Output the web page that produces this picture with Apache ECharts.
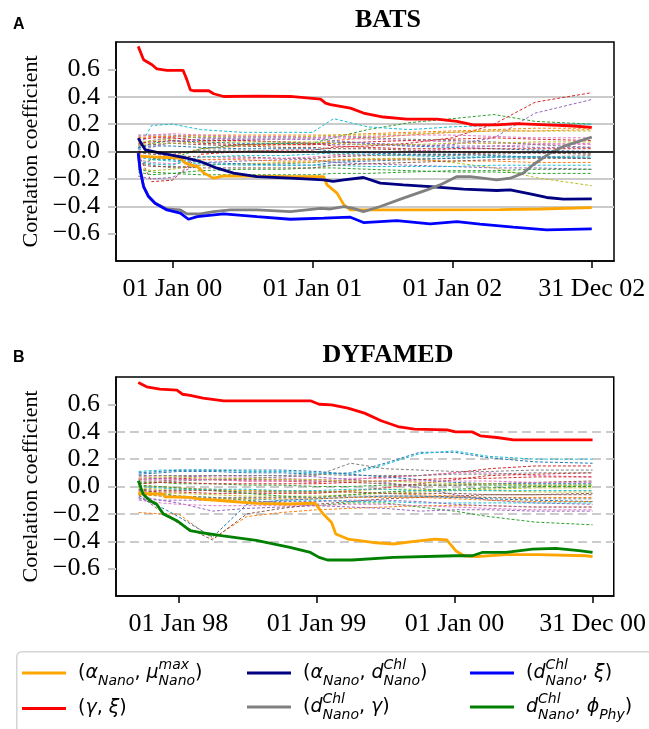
<!DOCTYPE html>
<html><head><meta charset="utf-8">
<script src="https://cdn.jsdelivr.net/npm/echarts@6/dist/echarts.min.js"></script>
<style>html,body{margin:0;padding:0;background:#fff}#c{width:649px;height:729px}</style>
</head><body><div id="c"></div>
<script>
// ================= DATA =================
// axis ticks
const batsTickDates = ['2000-01-01','2001-01-01','2002-01-01','2002-12-31'];
const batsTickLabels = ['01 Jan 00','01 Jan 01','01 Jan 02','31 Dec 02'];
const dyfTickDates = ['1998-01-01','1999-01-01','2000-01-01','2000-12-31'];
const dyfTickLabels = ['01 Jan 98','01 Jan 99','01 Jan 00','31 Dec 00'];
const batsRange = ['1999-08-07','2003-02-27'];
const dyfRange = ['1997-07-20','2001-02-25'];
const yTicks = [-0.6,-0.4,-0.2,0,0.2,0.4,0.6];

// ---- BATS main series ----
const batsRedDates = ['1999-10-04','1999-10-18','1999-11-09','1999-11-22','1999-12-18','2000-01-29','2000-02-08','2000-02-17','2000-02-25','2000-04-05','2000-04-18','2000-05-14','2000-08-09','2000-11-04','2001-01-22','2001-02-04','2001-02-17','2001-03-15','2001-04-10','2001-05-14','2001-07-05','2001-09-04','2001-11-22','2002-01-13','2002-02-25','2002-04-27','2002-06-18','2002-09-04','2002-11-04','2002-12-31'];
const batsRedVals = [0.768,0.67,0.634,0.603,0.593,0.593,0.525,0.45,0.444,0.444,0.422,0.402,0.405,0.402,0.383,0.354,0.342,0.33,0.317,0.281,0.252,0.237,0.237,0.22,0.195,0.195,0.203,0.195,0.188,0.176];

const batsNavyDates = ['1999-10-04','1999-10-14','1999-10-23','1999-11-22','1999-12-27','2000-02-08','2000-03-14','2000-04-27','2000-06-09','2000-08-09','2000-11-04','2001-01-30','2001-02-24','2001-03-24','2001-05-14','2001-06-27','2001-08-26','2001-11-04','2002-01-30','2002-04-27','2002-06-01','2002-07-23','2002-09-04','2002-10-18','2002-12-31'];
const batsNavyVals = [0.098,0.049,0.012,-0.007,-0.024,-0.049,-0.073,-0.122,-0.158,-0.183,-0.195,-0.207,-0.219,-0.207,-0.19,-0.231,-0.244,-0.256,-0.275,-0.285,-0.28,-0.31,-0.336,-0.348,-0.346];

const batsOrangeDates = ['1999-10-09','2000-01-22','2000-02-04','2000-03-06','2000-03-24','2000-04-18','2000-05-14','2000-11-04','2001-01-30','2001-02-08','2001-03-06','2001-03-24','2001-04-10','2001-11-04','2002-05-06','2002-08-18','2002-12-31'];
const batsOrangeVals = [-0.036,-0.049,-0.085,-0.11,-0.158,-0.195,-0.178,-0.183,-0.183,-0.244,-0.304,-0.39,-0.427,-0.427,-0.425,-0.42,-0.41];

const batsBlueDates = ['1999-10-04','1999-10-09','1999-10-18','1999-10-31','1999-11-17','1999-12-18','2000-01-22','2000-02-12','2000-03-06','2000-05-14','2000-08-09','2000-11-04','2001-01-30','2001-04-10','2001-05-14','2001-08-09','2001-11-04','2002-01-13','2002-03-14','2002-06-09','2002-09-04','2002-12-31'];
const batsBlueVals = [-0.012,-0.134,-0.256,-0.329,-0.378,-0.427,-0.451,-0.495,-0.476,-0.456,-0.476,-0.495,-0.487,-0.48,-0.519,-0.505,-0.529,-0.512,-0.531,-0.553,-0.573,-0.566];

const batsGrayDates = ['1999-10-04','1999-10-09','1999-10-18','1999-10-31','1999-11-17','1999-12-18','2000-01-22','2000-02-08','2000-03-14','2000-04-18','2000-06-01','2000-08-09','2000-11-04','2001-01-22','2001-02-17','2001-03-24','2001-04-18','2001-05-14','2001-06-27','2001-08-26','2001-10-27','2001-11-30','2002-01-13','2002-02-17','2002-04-27','2002-06-01','2002-07-05','2002-07-31','2002-09-13','2002-10-18','2002-12-31'];
const batsGrayVals = [-0.012,-0.134,-0.256,-0.329,-0.378,-0.42,-0.427,-0.456,-0.456,-0.439,-0.427,-0.427,-0.439,-0.415,-0.42,-0.402,-0.415,-0.439,-0.402,-0.341,-0.28,-0.244,-0.183,-0.183,-0.207,-0.195,-0.158,-0.097,-0.012,0.037,0.105];

// ---- DYFAMED main series ----
const dyfRedDates = ['1997-09-17','1997-10-09','1997-11-13','1997-12-28','1998-01-12','1998-02-01','1998-03-07','1998-05-01','1998-12-16','1999-01-08','1999-02-10','1999-03-25','1999-05-08','1999-06-21','1999-08-04','1999-09-17','1999-12-12','2000-01-04','2000-02-17','2000-03-09','2000-04-22','2000-06-05','2000-12-31'];
const dyfRedVals = [0.759,0.728,0.711,0.704,0.674,0.665,0.645,0.626,0.626,0.601,0.596,0.572,0.536,0.48,0.438,0.419,0.414,0.399,0.399,0.37,0.358,0.341,0.341];

const dyfGreenDates = ['1997-09-17','1997-09-30','1997-10-18','1997-11-04','1997-11-22','1997-12-28','1998-02-01','1998-02-27','1998-04-29','1998-07-26','1998-10-23','1998-12-16','1999-01-08','1999-01-30','1999-04-05','1999-07-23','2000-01-04','2000-02-17','2000-03-14','2000-05-16','2000-07-25','2000-09-25','2000-11-25','2000-12-31'];
const dyfGreenVals = [0.042,-0.056,-0.104,-0.128,-0.2,-0.25,-0.323,-0.336,-0.36,-0.393,-0.445,-0.482,-0.518,-0.537,-0.537,-0.518,-0.506,-0.506,-0.482,-0.482,-0.457,-0.452,-0.469,-0.482];

const dyfOrangeDates = ['1997-09-17','1997-11-22','1997-11-26','1998-02-01','1998-02-27','1998-04-29','1998-07-26','1998-10-21','1998-12-28','1999-01-19','1999-02-10','1999-02-21','1999-03-25','1999-05-30','1999-07-23','1999-09-17','1999-11-10','1999-12-12','2000-01-04','2000-01-26','2000-02-27','2000-05-16','2000-08-11','2000-12-13','2000-12-31'];
const dyfOrangeVals = [-0.051,-0.056,-0.075,-0.08,-0.092,-0.104,-0.124,-0.128,-0.121,-0.201,-0.263,-0.347,-0.384,-0.409,-0.42,-0.401,-0.384,-0.391,-0.469,-0.506,-0.513,-0.498,-0.498,-0.506,-0.513];

// ---- thin dashed (other parameter pairs) ----
const batsThinDates = ['1999-10-04','1999-11-08','2000-01-01','2000-03-15','2000-07-01','2000-10-15','2001-01-01','2001-02-25','2001-05-25','2001-09-10','2002-01-01','2002-04-20','2002-08-05','2002-12-31'];
const batsThinVals = [
 [0.02,0.06,0.08,0.07,0.06,0.06,0.05,0.07,0.06,0.04,0.03,0.02,0.01,0.00],
 [-0.05,-0.04,-0.03,0.02,0.04,0.05,0.05,0.08,0.10,0.12,0.14,0.15,0.15,0.16],
 [-0.10,-0.06,-0.05,0.02,0.05,0.06,0.06,0.10,0.16,0.21,0.24,0.27,0.22,0.20],
 [-0.02,-0.22,-0.21,-0.02,0.00,0.01,0.01,0.03,0.04,0.06,0.10,0.20,0.36,0.43],
 [0.05,0.08,0.10,0.08,0.08,0.07,0.06,0.05,0.05,0.04,0.05,0.10,0.28,0.38],
 [0.00,-0.02,-0.03,-0.04,-0.04,-0.05,-0.05,-0.04,-0.03,-0.02,-0.02,-0.01,-0.01,-0.02],
 [0.08,0.10,0.11,0.10,0.09,0.09,0.09,0.10,0.09,0.08,0.07,0.06,0.06,0.05],
 [-0.08,-0.10,-0.12,-0.10,-0.09,-0.09,-0.08,-0.07,-0.06,-0.05,-0.05,-0.04,-0.04,-0.03],
 [-0.12,-0.14,-0.13,-0.10,-0.09,-0.08,-0.08,-0.06,-0.05,-0.05,-0.08,-0.12,-0.19,-0.25],
 [0.02,0.19,0.20,0.16,0.14,0.14,0.14,0.24,0.18,0.16,0.18,0.19,0.20,0.20],
 [-0.03,-0.05,-0.06,-0.08,-0.09,-0.10,-0.10,-0.08,-0.07,-0.06,-0.05,-0.04,-0.04,-0.05],
 [0.10,0.11,0.11,0.12,0.12,0.12,0.12,0.12,0.13,0.14,0.15,0.16,0.17,0.17],
 [-0.15,-0.17,-0.16,-0.14,-0.13,-0.13,-0.12,-0.12,-0.13,-0.14,-0.15,-0.15,-0.16,-0.16],
 [0.06,0.07,0.08,0.06,0.05,0.05,0.05,0.06,0.07,0.08,0.09,0.10,0.09,0.08],
 [-0.18,-0.20,-0.19,-0.08,-0.07,-0.06,-0.06,-0.08,-0.09,-0.10,-0.11,-0.12,-0.12,-0.13],
 [0.04,0.05,0.06,0.05,0.04,0.03,0.03,0.02,0.02,0.01,0.00,-0.01,-0.01,-0.01],
 [-0.06,-0.08,-0.09,-0.06,-0.05,-0.05,-0.04,-0.03,-0.02,0.00,0.02,0.04,0.05,0.06],
 [0.12,0.12,0.12,0.10,0.10,0.10,0.10,0.11,0.10,0.09,0.08,0.07,0.05,0.03],
 [0.07,0.08,0.09,0.11,0.11,0.11,0.11,0.12,0.12,0.13,0.14,0.15,0.15,0.15],
 [-0.04,-0.06,-0.07,-0.09,-0.10,-0.10,-0.10,-0.10,-0.11,-0.11,-0.11,-0.10,-0.10,-0.10],
 [0.03,0.04,0.04,0.03,0.02,0.02,0.02,0.00,-0.01,-0.02,-0.02,-0.03,-0.04,-0.05],
 [-0.02,-0.04,-0.05,-0.06,-0.06,-0.07,-0.07,-0.06,-0.06,-0.06,-0.07,-0.07,-0.08,-0.08],
 [-0.13,-0.15,-0.16,-0.17,-0.17,-0.17,-0.17,-0.16,-0.16,-0.15,-0.14,-0.14,-0.13,-0.13],
 [0.09,0.10,0.10,0.08,0.08,0.07,0.06,0.04,0.03,0.02,0.02,0.02,0.02,0.02],
 [0.01,0.03,0.07,0.09,0.09,0.09,0.09,0.08,0.06,0.05,0.04,0.04,0.03,0.03],
 [-0.09,-0.11,-0.11,-0.12,-0.12,-0.12,-0.12,-0.10,-0.09,-0.08,-0.07,-0.06,-0.05,-0.05],
 [0.11,0.12,0.13,0.12,0.11,0.11,0.10,0.11,0.11,0.12,0.12,0.11,0.10,0.10],
 [-0.01,-0.02,-0.02,0.01,0.01,0.00,0.00,-0.02,-0.03,-0.03,-0.03,-0.02,-0.01,-0.01],
 [0.05,0.06,0.06,0.07,0.07,0.07,0.07,0.06,0.05,0.05,0.06,0.06,0.07,0.07],
 [-0.07,-0.09,-0.10,-0.04,-0.03,-0.03,-0.02,-0.01,-0.02,-0.03,-0.04,-0.04,-0.04,-0.04]
];
const dyfThinDates = ['1997-09-18','1997-11-15','1998-01-01','1998-04-01','1998-07-01','1998-10-01','1999-01-01','1999-04-01','1999-07-01','1999-10-01','2000-01-01','2000-04-01','2000-08-01','2000-12-31'];
const dyfThinVals = [
 [0.09,0.10,0.11,0.11,0.10,0.10,0.09,0.10,0.17,0.25,0.25,0.21,0.18,0.17],
 [-0.19,-0.20,-0.20,-0.38,-0.22,-0.19,-0.17,-0.16,-0.15,-0.14,-0.14,-0.14,-0.15,-0.15],
 [-0.02,-0.05,-0.07,-0.08,-0.10,-0.12,-0.14,-0.12,-0.12,-0.15,-0.18,-0.22,-0.26,-0.28],
 [0.05,0.06,0.06,0.05,0.04,0.04,0.03,0.05,0.07,0.08,0.10,0.13,0.15,0.15],
 [-0.07,-0.10,-0.12,-0.18,-0.16,-0.15,-0.14,-0.15,-0.16,-0.18,-0.17,-0.17,-0.18,-0.18],
 [-0.06,-0.18,-0.27,-0.39,-0.20,-0.16,-0.13,-0.11,-0.09,-0.08,-0.07,-0.06,-0.06,-0.05],
 [0.07,0.08,0.08,0.07,0.07,0.06,0.05,0.06,0.06,0.08,0.10,0.10,0.08,0.07],
 [0.02,0.03,0.04,0.05,0.06,0.07,0.08,0.17,0.13,0.12,0.11,0.11,0.12,0.12],
 [-0.04,-0.05,-0.05,-0.06,-0.07,-0.07,-0.07,-0.06,-0.05,-0.04,-0.03,-0.02,-0.01,-0.01],
 [0.11,0.12,0.12,0.12,0.11,0.11,0.10,0.09,0.16,0.24,0.26,0.22,0.20,0.20],
 [-0.08,-0.15,-0.22,-0.37,-0.13,-0.10,-0.09,-0.08,-0.07,-0.07,-0.08,-0.09,-0.10,-0.11],
 [0.00,0.00,-0.01,-0.02,-0.03,-0.03,-0.04,-0.04,-0.05,-0.06,-0.07,-0.08,-0.08,-0.08],
 [0.03,0.03,0.02,0.02,0.01,0.01,0.00,0.00,0.01,0.01,0.01,0.01,0.01,0.01],
 [-0.03,-0.04,-0.04,-0.05,-0.05,-0.05,-0.05,-0.03,-0.01,0.02,0.05,0.08,0.09,0.10],
 [0.06,0.06,0.07,0.08,0.08,0.08,0.07,0.05,0.03,-0.01,-0.06,-0.10,-0.12,-0.13],
 [0.04,0.04,0.05,0.05,0.05,0.05,0.04,0.03,0.02,0.01,0.01,0.02,0.03,0.04],
 [-0.10,-0.12,-0.13,-0.14,-0.14,-0.14,-0.14,-0.13,-0.13,-0.14,-0.15,-0.16,-0.17,-0.17],
 [0.08,0.08,0.08,0.08,0.08,0.08,0.09,0.08,0.08,0.08,0.09,0.09,0.10,0.10],
 [-0.01,-0.02,-0.02,-0.03,-0.03,-0.04,-0.04,-0.03,-0.02,-0.02,-0.03,-0.03,-0.04,-0.04],
 [-0.05,-0.07,-0.08,-0.09,-0.09,-0.10,-0.10,-0.11,-0.11,-0.12,-0.12,-0.12,-0.12,-0.12],
 [0.10,0.11,0.12,0.12,0.12,0.12,0.11,0.09,0.07,0.05,0.03,0.02,0.02,0.02],
 [-0.06,-0.07,-0.08,-0.09,-0.09,-0.09,-0.09,-0.08,-0.08,-0.08,-0.09,-0.10,-0.11,-0.11],
 [0.01,0.00,-0.01,-0.03,-0.05,-0.07,-0.08,-0.06,-0.04,-0.03,-0.02,-0.01,0.00,0.00],
 [0.02,0.03,0.03,0.02,0.02,0.02,0.02,0.03,0.04,0.05,0.06,0.06,0.07,0.07],
 [-0.09,-0.10,-0.10,-0.10,-0.11,-0.11,-0.11,-0.10,-0.10,-0.11,-0.13,-0.14,-0.15,-0.15],
 [-0.02,-0.03,-0.03,-0.03,-0.04,-0.04,-0.04,-0.04,-0.05,-0.05,-0.05,-0.06,-0.06,-0.06],
 [0.05,0.05,0.05,0.05,0.04,0.04,0.04,0.04,0.04,0.04,0.04,0.04,0.03,0.03],
 [-0.04,-0.06,-0.07,-0.08,-0.08,-0.08,-0.08,-0.07,-0.07,-0.07,-0.08,-0.08,-0.09,-0.09],
 [0.06,0.07,0.07,0.06,0.06,0.05,0.05,0.04,0.04,0.03,0.02,0.02,0.01,0.01],
 [0.00,-0.01,-0.02,-0.02,-0.02,-0.03,-0.03,-0.02,-0.02,-0.03,-0.03,-0.03,-0.03,-0.03]
];

// ================= CHART =================
const tab10 = ['#1f77b4','#ff7f0e','#2ca02c','#d62728','#9467bd','#8c564b','#e377c2','#7f7f7f','#bcbd22','#17becf'];
const SERIF = 'Liberation Serif';
function ts(s){const p=s.split('-').map(Number);return Date.UTC(p[0],p[1]-1,p[2]);}
function pairs(d,v){return d.map((x,i)=>[ts(x),v[i]]);}

const N = {
  aMu:'(αNano, μmaxNano)', gXi:'(γ, ξ)', aD:'(αNano, dChlNano)',
  dG:'(dChlNano, γ)', dXi:'(dChlNano, ξ)', dPhi:'dChlNano, ϕPhy)'
};
const legendRich = {
  [N.aMu]:'{t|(}{i|α}{sub|Nano}{t|, }{i|μ}{supz|max}{sub|Nano}{t|)}',
  [N.gXi]:'{t|(}{i|γ}{t|, }{i|ξ}{t|)}',
  [N.aD]:'{t|(}{i|α}{sub|Nano}{t|, }{i|d}{supz|Chl}{sub|Nano}{t|)}',
  [N.dG]:'{t|(}{i|d}{supz|Chl}{sub|Nano}{t|, }{i|γ}{t|)}',
  [N.dXi]:'{t|(}{i|d}{supz|Chl}{sub|Nano}{t|, }{i|ξ}{t|)}',
  [N.dPhi]:'{i|d}{supz|Chl}{sub|Nano}{t|, }{i|ϕ}{sub|Phy}{t|)}'
};
const rich = {
  t:{fontFamily:'DejaVu Sans',fontSize:19,lineHeight:30,verticalAlign:'middle',color:'#000'},
  i:{fontFamily:'DejaVu Sans',fontStyle:'italic',fontSize:19,lineHeight:30,verticalAlign:'middle',color:'#000'},
  sub:{fontFamily:'DejaVu Sans',fontStyle:'italic',fontSize:14,lineHeight:14,verticalAlign:'bottom',color:'#000'},
  supz:{fontFamily:'DejaVu Sans',fontStyle:'italic',fontSize:14,lineHeight:14,verticalAlign:'top',width:0,color:'#000'}
};

function xAxisFor(gi, range, tickDates, tickLabels){
  const tv = tickDates.map(ts);
  return {
    type:'value', gridIndex:gi, min:ts(range[0]), max:ts(range[1]), scale:true,
    axisLine:{show:true,onZero:false,lineStyle:{color:'#000',width:1.5}},
    axisTick:{show:true,customValues:tv,length:7,lineStyle:{color:'#000',width:1.5}},
    axisLabel:{customValues:tv,hideOverlap:false,fontFamily:SERIF,fontSize:26,color:'#000',margin:15,
      formatter:function(v){let k=0,b=Infinity;tv.forEach((t,i)=>{const d=Math.abs(t-v);if(d<b){b=d;k=i;}});return tickLabels[k];}},
    splitLine:{show:false}
  };
}
function yAxisFor(gi, dashed){
  return {
    type:'value', gridIndex:gi, min:-0.8, max:0.8, interval:0.2,
    name:'Corelation coefficient', nameLocation:'middle', nameGap:74,
    nameTextStyle:{fontFamily:SERIF,fontSize:22,color:'#000'},
    axisLine:{show:true,onZero:false,lineStyle:{color:'#000',width:1.5}},
    axisTick:{show:true,customValues:yTicks,length:8,lineStyle:{color:'#c8c8c8',width:2}},
    axisLabel:{customValues:yTicks,fontFamily:SERIF,fontSize:26,color:'#000',margin:16,
      formatter:v=>(v<-1e-9?'\u2212':'')+Math.abs(v).toFixed(1)},
    splitLine:{show:true,showMinLine:false,showMaxLine:false,
      lineStyle:{color:'#cbcbcb',width:2,type:dashed?[9,5]:'solid'}}
  };
}

const series = [];
function thin(gi, dates, vals){
  vals.forEach((v,k)=>series.push({type:'line',xAxisIndex:gi,yAxisIndex:gi,data:pairs(dates,v),
    symbol:'none',silent:true,z:2,lineStyle:{width:1,type:[3,2],color:tab10[k%10]}}));
}
function main(gi, name, color, dates, vals){
  series.push({type:'line',name:name,xAxisIndex:gi,yAxisIndex:gi,data:pairs(dates,vals),
    symbol:'none',silent:true,z:4,color:color,lineStyle:{width:2.8,color:color}});
}
thin(0, batsThinDates, batsThinVals);
series.push({type:'line',xAxisIndex:0,yAxisIndex:0,data:[],z:3,silent:true,
  markLine:{silent:true,symbol:'none',animation:false,label:{show:false},
    lineStyle:{color:'#000',width:1.5,type:'solid'},data:[{yAxis:0}]}});
main(0, N.aMu, '#FFA500', batsOrangeDates, batsOrangeVals);
main(0, N.gXi, '#FF0000', batsRedDates, batsRedVals);
main(0, N.aD, '#000080', batsNavyDates, batsNavyVals);
main(0, N.dG, '#808080', batsGrayDates, batsGrayVals);
main(0, N.dXi, '#0000FF', batsBlueDates, batsBlueVals);
thin(1, dyfThinDates, dyfThinVals);
main(1, N.aMu, '#FFA500', dyfOrangeDates, dyfOrangeVals);
main(1, N.gXi, '#FF0000', dyfRedDates, dyfRedVals);
main(1, N.dPhi, '#008000', dyfGreenDates, dyfGreenVals);

function leg(name, left, top){
  return {data:[name],left:left,top:top,padding:0,icon:'rect',itemWidth:44,itemHeight:3,selectedMode:false,
    formatter:n=>legendRich[n],textStyle:{rich:rich,padding:[0,0,0,7]}};
}

const option = {
  animation:false,
  backgroundColor:'#fff',
  title:[
    {text:'A',left:13,top:17,padding:0,textStyle:{fontFamily:'Liberation Sans',fontWeight:'bold',fontSize:16,color:'#000'}},
    {text:'BATS',left:388,textAlign:'center',top:7,padding:0,textStyle:{fontFamily:SERIF,fontWeight:'bold',fontSize:26,color:'#000'}},
    {text:'B',left:13,top:350,padding:0,textStyle:{fontFamily:'Liberation Sans',fontWeight:'bold',fontSize:16,color:'#000'}},
    {text:'DYFAMED',left:388,textAlign:'center',top:342,padding:0,textStyle:{fontFamily:SERIF,fontWeight:'bold',fontSize:26,color:'#000'}}
  ],
  grid:[
    {left:116,top:42,width:498,height:219,show:true,borderColor:'#000',borderWidth:1.5,backgroundColor:'transparent'},
    {left:116,top:377,width:499,height:219,show:true,borderColor:'#000',borderWidth:1.5,backgroundColor:'transparent'}
  ],
  xAxis:[xAxisFor(0,batsRange,batsTickDates,batsTickLabels), xAxisFor(1,dyfRange,dyfTickDates,dyfTickLabels)],
  yAxis:[yAxisFor(0,false), yAxisFor(1,true)],
  legend:[
    leg(N.aMu,22,658), leg(N.gXi,22,699),
    leg(N.aD,247,658), leg(N.dG,247,692),
    leg(N.dXi,470,658), leg(N.dPhi,470,692)
  ],
  graphic:[{type:'rect',left:16,top:651,z:-1,silent:true,shape:{width:700,height:120,r:5},
    style:{fill:'#fff',stroke:'#d4d4d4',lineWidth:1.5}}],
  series:series
};
const chart = echarts.init(document.getElementById('c'),null,{renderer:'canvas'});
chart.setOption(option);
</script></body></html>
